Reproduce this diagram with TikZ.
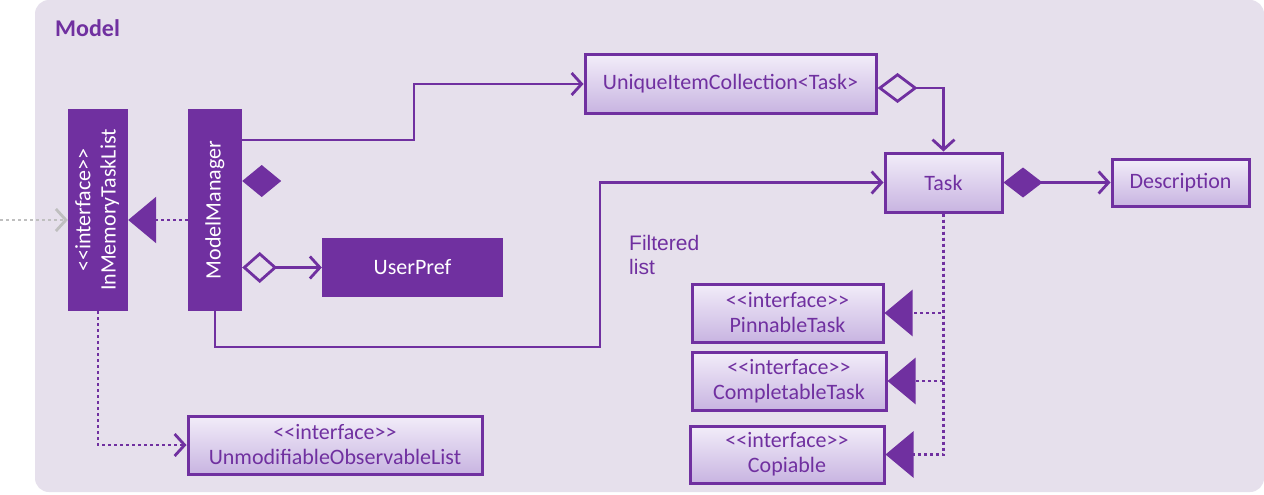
\documentclass[tikz,border=0pt]{standalone}
\usepackage{fontspec}
\newfontfamily\boxfont{Carlito}
\newfontfamily\notefont{Liberation Sans}
\usetikzlibrary{arrows.meta}
\definecolor{modelpurple}{HTML}{7030A0}
\definecolor{modelpanel}{HTML}{E6E0EC}
\definecolor{classtop}{HTML}{F2EDF9}
\definecolor{classbottom}{HTML}{C8B4E1}
\definecolor{outsidegray}{HTML}{BFBFBF}
\begin{document}
\begin{tikzpicture}
  [x=1pt,y=-1pt,
  every node/.style={inner sep=0pt},
  classbox/.style={draw=modelpurple,line width=3pt,top color=classtop,bottom color=classbottom,
    text=modelpurple,font=\boxfont\fontsize{22}{25}\selectfont,align=center},
  darkbox/.style={fill=modelpurple,text=white,font=\boxfont\fontsize{22}{25}\selectfont,align=center},
  link/.style={draw=modelpurple,line width=2.8pt},
  opentip/.style={-{Straight Barb[length=10pt,width=22pt]}},
  realize/.style={link,dash pattern=on 3pt off 3pt,-{Triangle[length=28pt,width=46pt]}},
  depend/.style={link,dash pattern=on 3pt off 3pt,opentip}]
\useasboundingbox (0,0) rectangle (1264,495);
\fill[white] (0,0) rectangle (1264,495);
\fill[modelpanel,rounded corners=14pt] (35,0) rectangle (1264,492);
\node[anchor=west,text=modelpurple,font=\boxfont\bfseries\fontsize{24}{28}\selectfont] (title) at (55,28) {Model};
\node[darkbox,minimum width=60pt,minimum height=202pt] (iml) at (98,210)
  {\rotatebox{90}{\begin{tabular}{@{}c@{}}<<interface>>\\InMemoryTaskList\end{tabular}}};
\node[darkbox,minimum width=54pt,minimum height=202pt] (mm) at (215,210) {\rotatebox{90}{ModelManager}};
\node[darkbox,minimum width=181pt,minimum height=59pt] (pref) at (412.5,267.5) {UserPref};
\node[classbox,minimum width=291pt,minimum height=58pt] (unique) at (730.5,84) {UniqueItemCollection<Task>};
\node[classbox,minimum width=117pt,minimum height=59pt] (task) at (943.5,182.5) {Task};
\node[classbox,minimum width=137pt,minimum height=47pt] (desc) at (1180.5,182.5) {Description};
\node[classbox,minimum width=191pt,minimum height=58pt] (pinnable) at (787.5,313) {<<interface>>\\PinnableTask};
\node[classbox,minimum width=194pt,minimum height=58pt] (completable) at (789,381) {<<interface>>\\CompletableTask};
\node[classbox,minimum width=194pt,minimum height=57pt] (copiable) at (787,454.5) {<<interface>>\\Copiable};
\node[classbox,minimum width=294pt,minimum height=58pt] (unmod) at (335,445) {<<interface>>\\UnmodifiableObservableList};
\node[anchor=north west,align=left,text=modelpurple,font=\notefont\fontsize{21}{24}\selectfont] (filtered) at (629,235) {Filtered\\list};
\coordinate (outside) at (0,220);
\draw[draw=outsidegray,line width=2.8pt,dash pattern=on 3pt off 3pt,opentip] (outside) -- ([yshift=-10pt]iml.west);
\draw[realize] ([yshift=-10pt]mm.west) -- ([yshift=-10pt]iml.east);
\draw[depend] (iml.south) |- (unmod.west);
\draw[link,opentip] ([yshift=70pt]mm.east) -- (414,140) |- (unique.west);
\draw[link,opentip] (mm.south) |- (600,347) |- (task.west);
\fill[modelpurple] ([yshift=29pt]mm.east) -- ++(19.5,-16) -- ++(19.5,16) -- ++(-19.5,16) -- cycle;
\draw[link,{Diamond[open,length=35pt,width=31pt]}-{Straight Barb[length=10pt,width=22pt]}] (mm.east |- pref.west) -- (pref.west);
\draw[link,{Diamond[open,length=40pt,width=30pt]}-{Straight Barb[length=10pt,width=22pt]}] ([yshift=-4pt]unique.east) -| (task.north);
\draw[link,{Diamond[length=39pt,width=30pt]}-{Straight Barb[length=10pt,width=22pt]}] (task.east) -- (desc.west);
\draw[realize] (task.south) |- (pinnable.east);
\draw[realize] (task.south) |- (completable.east);
\draw[realize] (task.south) |- (copiable.east);
\end{tikzpicture}
\end{document}
